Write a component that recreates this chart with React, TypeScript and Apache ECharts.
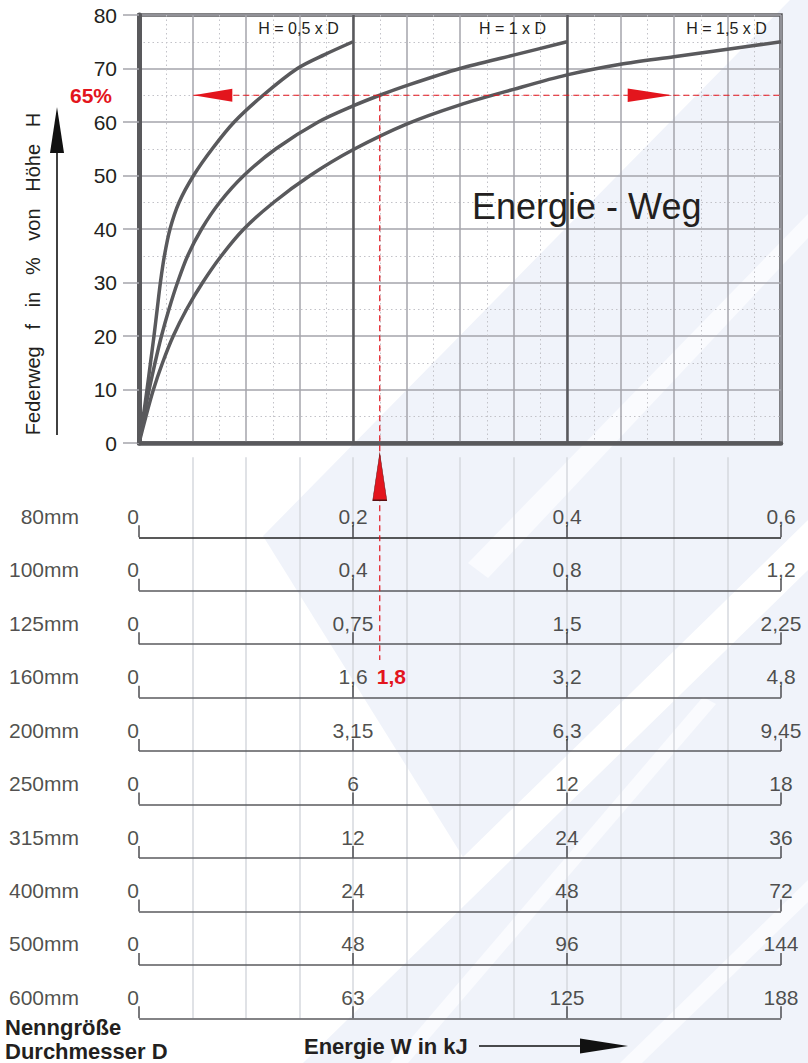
import React, { useEffect, useRef } from "react";
import * as echarts from "echarts";

const FONT = "'Liberation Sans', Arial, Helvetica, sans-serif";

// ---- data -------------------------------------------------------------
// x: energy scale units (0..12, 4 units per labelled tick), y: Federweg in % von Höhe H
const curveH05: number[][] = [[0, 0], [0.08, 5], [0.15, 10], [0.215, 15], [0.28, 20], [0.34, 25], [0.4, 30], [0.475, 35], [0.58, 40], [0.75, 45], [1.02, 50], [1.37, 55], [1.78, 60], [2.32, 65], [2.96, 70], [3.47, 72.6], [4, 75]];
const curveH10: number[][] = [[0, 0], [0.09, 5], [0.19, 10], [0.3, 15], [0.42, 20], [0.56, 25], [0.72, 30], [0.91, 35], [1.17, 40], [1.51, 45], [1.96, 50], [2.56, 55], [3.35, 60], [4, 63], [4.5, 65], [5, 66.8], [6, 70], [7, 72.5], [8, 75]];
const curveH15: number[][] = [[0, 0], [0.13, 5], [0.27, 10], [0.44, 15], [0.64, 20], [0.89, 25], [1.19, 30], [1.54, 35], [1.96, 40], [2.52, 45], [3.2, 50], [4, 54.8], [5, 59.6], [6, 63.2], [7, 66.1], [8, 68.8], [9, 70.8], [10, 72.2], [11, 73.6], [12, 75]];
const curveNames = ["H = 0,5 x D", "H = 1 x D", "H = 1,5 x D"];

const diameters = ["80mm", "100mm", "125mm", "160mm", "200mm", "250mm", "315mm", "400mm", "500mm", "600mm"];
const scaleTicks = [0, 4, 8, 12];
const scaleLabels = [
  ["0", "0,2", "0,4", "0,6"],
  ["0", "0,4", "0,8", "1,2"],
  ["0", "0,75", "1,5", "2,25"],
  ["0", "1,6", "3,2", "4,8"],
  ["0", "3,15", "6,3", "9,45"],
  ["0", "6", "12", "18"],
  ["0", "12", "24", "36"],
  ["0", "24", "48", "72"],
  ["0", "48", "96", "144"],
  ["0", "63", "125", "188"],
];

const markPercent = 65; // Federweg read-off
const markX = 4.5; // where H = 1 x D reaches 65 %
const markRow = 3; // 160mm row
const markValue = "1,8";

// ---- layout -----------------------------------------------------------
const G = { left: 139, top: 15, width: 642, height: 428 };
const UX = G.width / 12;
const UY = G.height / 80;
const ROW0 = 537.3;
const STEP = 53.45;
const BTOP = ROW0 - 1.5 * STEP;
const BH = 10.5 * STEP;
const px = (x: number) => G.left + x * UX;
const py = (y: number) => G.top + G.height - y * UY;
const ux = (p: number) => (p - G.left) / UX;
const uy = (p: number) => (G.top + G.height - p) / UY;

const RED = "#e3151d";
const DARK = "#59595c";
const TXT = "#231f20";
const WM = "#f0f3fa";
const WMS = "#fafbfe";

export default function App() {
  const ref = useRef<HTMLDivElement>(null);
  useEffect(() => {
    if (!ref.current) return;
    const chart = echarts.init(ref.current, undefined, { renderer: "svg" });

    const curveSeries = [curveH05, curveH10, curveH15].map((d, i) => ({
      type: "line",
      xAxisIndex: 0,
      yAxisIndex: 0,
      data: d,
      smooth: 0.3,
      symbol: "none",
      z: 4,
      lineStyle: { color: DARK, width: 3.5 },
      ...(i === 0
        ? {
            markLine: {
              silent: true,
              symbol: ["none", "none"],
              label: { show: false },
              lineStyle: { color: DARK, width: 2.5, type: "solid" },
              data: [{ xAxis: 4 }, { xAxis: 8 }],
            },
          }
        : {}),
    }));

    const rowVal = (k: number) => diameters.length - 1 - k;
    const lblOff = 21 / STEP;

    const tickData: any[] = [];
    const tickLabelData: any[] = [];
    const nameData: any[] = [];
    scaleLabels.forEach((labels, k) => {
      const v = rowVal(k);
      scaleTicks.forEach((t, j) => {
        tickData.push([t, v]);
        tickLabelData.push({
          value: [t, v + lblOff],
          label: { formatter: labels[j], offset: j === 0 ? [-6, 0] : [0, 0] },
        });
      });
      nameData.push({ value: [ux(79), v + lblOff], label: { formatter: diameters[k] } });
    });

    const leftArrowTip = 193.3;
    const rightArrowBase = 627.7;
    const option: any = {
      animation: false,
      textStyle: { fontFamily: FONT },
      grid: [
        { left: G.left, top: G.top, width: G.width, height: G.height, show: true, borderColor: DARK, borderWidth: 3.5, backgroundColor: "transparent" },
        { left: G.left, top: BTOP, width: G.width, height: BH, show: false },
      ],
      xAxis: [
        {
          gridIndex: 0, type: "value", min: 0, max: 12, interval: 1,
          axisLine: { show: true, lineStyle: { color: DARK, width: 4.5 } },
          axisTick: { show: false }, axisLabel: { show: false },
          splitLine: { show: true, lineStyle: { color: "#a5a5ab", width: 1.5 } },
          minorTick: { show: false, splitNumber: 2 },
          minorSplitLine: { show: true, lineStyle: { color: "#c2c2c8", width: 1, type: [1.5, 3] } },
        },
        {
          gridIndex: 1, type: "value", min: 0, max: 12, interval: 1,
          axisLine: { show: false }, axisTick: { show: false }, axisLabel: { show: false },
          splitLine: { show: true, showMinLine: false, showMaxLine: false, lineStyle: { color: "#d6d8de", width: 1.5 } },
        },
      ],
      yAxis: [
        {
          gridIndex: 0, type: "value", min: 0, max: 80, interval: 10,
          axisLine: { show: true, lineStyle: { color: DARK, width: 5 } },
          axisTick: { show: true, length: 16, lineStyle: { color: "#a5a5ab", width: 1.5 } },
          axisLabel: { fontSize: 21, color: TXT, margin: 22, fontFamily: FONT },
          splitLine: { show: true, lineStyle: { color: "#a5a5ab", width: 1.5 } },
          minorTick: { show: false, splitNumber: 2 },
          minorSplitLine: { show: true, lineStyle: { color: "#c2c2c8", width: 1, type: [1.5, 3] } },
        },
        { gridIndex: 1, type: "value", min: 0, max: 10.5, show: false },
      ],
      series: [
        ...curveSeries,
        {
          type: "line", xAxisIndex: 0, yAxisIndex: 0, clip: false, symbol: "none", z: 5,
          lineStyle: { color: RED, width: 1.2, type: [6, 4] },
          data: [[ux(leftArrowTip), markPercent], [ux(808), markPercent]],
        },
        {
          type: "line", xAxisIndex: 0, yAxisIndex: 0, clip: false, symbol: "none", z: 5,
          lineStyle: { color: RED, width: 1.2, type: [6, 4] },
          data: [[markX, markPercent], [markX, uy(660)]],
        },
        {
          type: "scatter", xAxisIndex: 0, yAxisIndex: 0, clip: false, z: 6, symbol: "triangle",
          itemStyle: { color: RED, opacity: 1 },
          data: [
            { value: [ux(leftArrowTip + 19.5), markPercent], symbolSize: [13, 39], symbolRotate: 90 },
            { value: [ux(rightArrowBase + 22), markPercent], symbolSize: [13.5, 44], symbolRotate: -90 },
            { value: [markX, uy(476.7)], symbolSize: [14, 47], symbolRotate: 0, itemStyle: { borderColor: "#5a1012", borderWidth: 0.8 } },
          ],
        },
        {
          type: "scatter", xAxisIndex: 1, yAxisIndex: 1, clip: false, z: 4,
          symbol: "rect", symbolSize: [1.5, 12], symbolOffset: [0, -6],
          itemStyle: { color: "#4d4d50", opacity: 1 },
          data: tickData,
          markLine: {
            silent: true, symbol: ["none", "none"], label: { show: false },
            lineStyle: { color: "#55555a", width: 1.5, type: "solid" },
            data: diameters.map((_, k) => ({ yAxis: rowVal(k), lineStyle: { color: k === 0 ? "#222" : "#5a5a5e" } })),
          },
        },
        {
          type: "scatter", xAxisIndex: 1, yAxisIndex: 1, clip: false, z: 5, symbolSize: 1,
          itemStyle: { color: "rgba(0,0,0,0)" },
          label: { show: true, position: "inside", fontSize: 21, color: TXT, fontFamily: FONT },
          data: tickLabelData,
        },
        {
          type: "scatter", xAxisIndex: 1, yAxisIndex: 1, clip: false, z: 5, symbolSize: 1,
          itemStyle: { color: "rgba(0,0,0,0)" },
          label: { show: true, position: "inside", align: "right", fontSize: 21, color: TXT, fontFamily: FONT },
          data: nameData,
        },
      ],
      graphic: [
        // faint background watermark
        { type: "polygon", z: -10, silent: true, shape: { points: [[790, 0], [808, 0], [808, 520], [463, 857], [263, 536]] }, style: { fill: WM } },
        { type: "polygon", z: -9, silent: true, shape: { points: [[468, 563], [808, 214], [808, 238], [488, 578]] }, style: { fill: WMS } },
        { type: "polygon", z: -10, silent: true, shape: { points: [[303, 1063], [808, 570], [808, 1063]] }, style: { fill: WM } },
        { type: "polygon", z: -9, silent: true, shape: { points: [[390, 1063], [703, 697], [716, 704], [408, 1063]] }, style: { fill: WMS } },
        { type: "polygon", z: -9, silent: true, shape: { points: [[620, 1063], [808, 880], [808, 902], [642, 1063]] }, style: { fill: WMS } },
        // curve names
        ...curveNames.map((t, i) => ({
          type: "text", z: 10, x: px([3, 7, 11][i]) - 1, y: 28,
          style: { text: t, fill: TXT, font: `16px ${FONT}`, align: "center", verticalAlign: "middle" },
        })),
        { type: "text", z: 10, x: 472, y: 206, style: { text: "Energie - Weg", fill: TXT, font: `36px ${FONT}`, align: "left", verticalAlign: "middle" } },
        { type: "text", z: 10, x: 70, y: py(markPercent), style: { text: `${markPercent}%`, fill: RED, font: `bold 21px ${FONT}`, align: "left", verticalAlign: "middle" } },
        { type: "text", z: 10, x: px(markX) - 3, y: ROW0 + markRow * STEP - 21, style: { text: markValue, fill: RED, font: `bold 21px ${FONT}`, align: "left", verticalAlign: "middle" } },
        // y axis title with arrow
        {
          type: "text", z: 10, x: 33, y: 274, rotation: Math.PI / 2,
          style: { text: "Federweg\u00A0\u00A0\u00A0f\u00A0\u00A0\u00A0in\u00A0\u00A0\u00A0%\u00A0\u00A0\u00A0von\u00A0\u00A0\u00A0Höhe\u00A0\u00A0\u00A0H", fill: TXT, font: `20px ${FONT}`, align: "center", verticalAlign: "middle" },
        },
        { type: "line", z: 10, shape: { x1: 57, y1: 435, x2: 57, y2: 150 }, style: { stroke: "#111", lineWidth: 1.6 } },
        { type: "polygon", z: 10, shape: { points: [[57, 107], [64, 153], [50, 153]] }, style: { fill: "#111" } },
        // footer
        { type: "text", z: 10, x: 5, y: 1027, style: { text: "Nenngröße", fill: TXT, font: `bold 22px ${FONT}`, align: "left", verticalAlign: "middle" } },
        { type: "text", z: 10, x: 5, y: 1051, style: { text: "Durchmesser D", fill: TXT, font: `bold 22px ${FONT}`, align: "left", verticalAlign: "middle" } },
        { type: "text", z: 10, x: 304, y: 1046, style: { text: "Energie W in kJ", fill: TXT, font: `bold 22px ${FONT}`, align: "left", verticalAlign: "middle" } },
        { type: "line", z: 10, shape: { x1: 479, y1: 1046, x2: 585, y2: 1046 }, style: { stroke: "#111", lineWidth: 1.6 } },
        { type: "polygon", z: 10, shape: { points: [[628, 1046], [580, 1038.5], [580, 1053.5]] }, style: { fill: "#111" } },
      ],
    };
    chart.setOption(option);
    return () => chart.dispose();
  }, []);

  return (
    <div
      ref={ref}
      style={{ position: "absolute", left: 0, top: 0, width: 808, height: 1063, background: "#fff" }}
    />
  );
}
